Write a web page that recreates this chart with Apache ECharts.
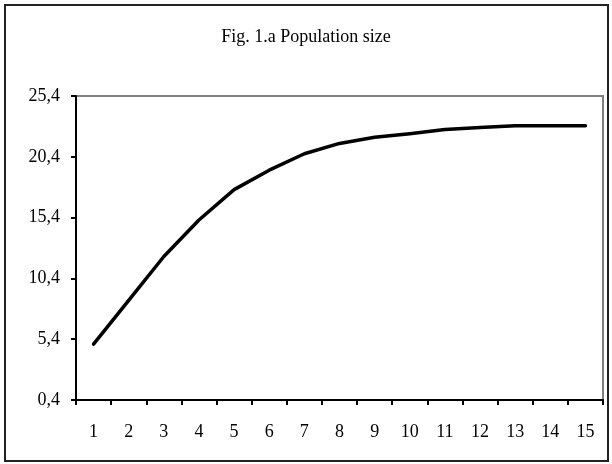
<!DOCTYPE html>
<html>
<head>
<meta charset="utf-8">
<script src="https://cdn.jsdelivr.net/npm/echarts@6/dist/echarts.min.js"></script>
<style>html,body{margin:0;padding:0;background:#fff}#c{width:612px;height:464px}</style>
</head>
<body>
<div id="c"></div>
<script>
var categories = ['1','2','3','4','5','6','7','8','9','10','11','12','13','14','15'];
var population = [5.0, 8.6, 12.2, 15.2, 17.7, 19.3, 20.65, 21.5, 22.0, 22.3, 22.65, 22.8, 22.95, 22.95, 22.95];
var yTicks = [0.4, 5.4, 10.4, 15.4, 20.4, 25.4];
var titleText = 'Fig. 1.a Population size';

var serif = '"Liberation Serif", "Times New Roman", serif';
var chart = echarts.init(document.getElementById('c'), null, {renderer: 'canvas'});
chart.setOption({
  animation: false,
  backgroundColor: '#fff',
  title: {
    text: titleText, left: 'center', top: 23,
    textStyle: {fontFamily: serif, fontSize: 18, fontWeight: 'normal', color: '#000'}
  },
  graphic: [{
    type: 'rect', shape: {x: 5, y: 5, width: 603, height: 456},
    style: {fill: 'none', stroke: '#222', lineWidth: 2}, silent: true
  }],
  grid: {
    left: 76, top: 96, width: 527, height: 304,
    show: true, borderColor: '#808080', borderWidth: 2, backgroundColor: '#fff'
  },
  xAxis: {
    type: 'category', data: categories, boundaryGap: true,
    axisLine: {lineStyle: {color: '#000', width: 2}},
    axisTick: {show: true, length: 5, lineStyle: {color: '#000', width: 2}},
    axisLabel: {fontFamily: serif, fontSize: 18, color: '#000', margin: 23},
    splitLine: {show: false}
  },
  yAxis: {
    type: 'value', min: 0.4, max: 25.4,
    axisLine: {show: true, lineStyle: {color: '#000', width: 2}},
    axisTick: {show: true, length: 5, customValues: yTicks, lineStyle: {color: '#000', width: 2}},
    axisLabel: {
      fontFamily: serif, fontSize: 18, color: '#000', margin: 16,
      customValues: yTicks,
      formatter: function (v) { return v.toFixed(1).replace('.', ','); }
    },
    splitLine: {show: false}
  },
  series: [{
    type: 'line', data: population, showSymbol: false, symbol: 'none',
    lineStyle: {color: '#000', width: 3.5, cap: 'round', join: 'round'}
  }]
});
</script>
</body>
</html>
